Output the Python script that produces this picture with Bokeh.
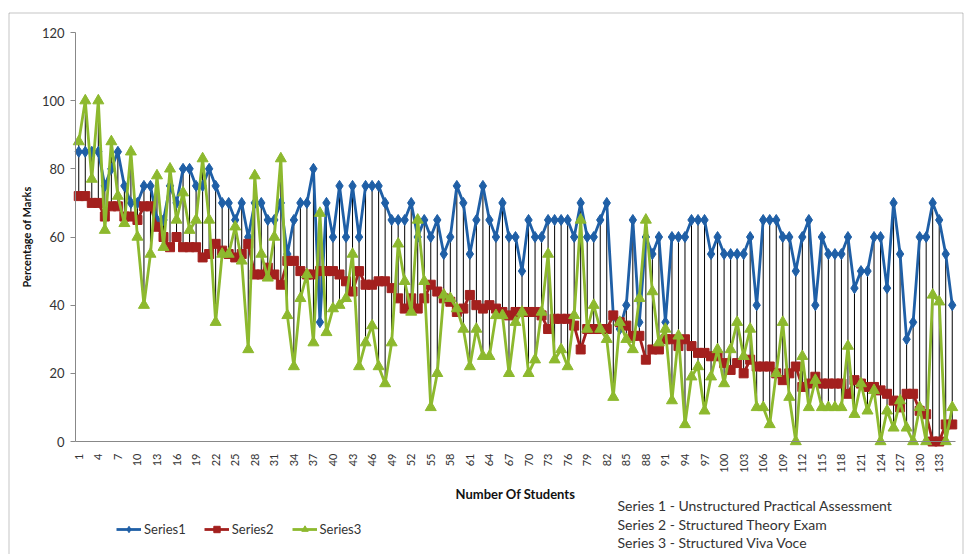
import numpy as np
from math import pi
from bokeh.plotting import figure
from bokeh.models import FixedTicker, Legend, LegendItem, Label, Range1d, BoxAnnotation
from bokeh.embed import file_html
from bokeh.resources import INLINE

students = list(range(1, 136))

series1 = [85, 85, 85, 85, 75, 80, 85, 75, 70, 70,
           75, 75, 65, 65, 75, 70, 80, 80, 75, 75,
           80, 75, 70, 70, 65, 70, 60, 70, 70, 65,
           65, 70, 55, 65, 70, 70, 80, 35, 70, 60,
           75, 60, 75, 60, 75, 75, 75, 70, 65, 65,
           65, 70, 60, 65, 60, 65, 55, 60, 75, 70,
           55, 65, 75, 65, 60, 70, 60, 60, 50, 65,
           60, 60, 65, 65, 65, 65, 60, 70, 60, 60,
           65, 70, 37, 33, 40, 65, 35, 60, 55, 60,
           35, 60, 60, 60, 65, 65, 65, 55, 60, 55,
           55, 55, 55, 60, 40, 65, 65, 65, 60, 60,
           50, 60, 65, 40, 60, 55, 55, 55, 60, 45,
           50, 50, 60, 60, 45, 70, 55, 30, 35, 60,
           60, 70, 65, 55, 40]

series2 = [72, 72, 70, 70, 66, 69, 69, 66, 66, 65,
           69, 69, 63, 60, 57, 60, 57, 57, 57, 54,
           55, 58, 56, 55, 54, 55, 58, 49, 49, 51,
           49, 46, 53, 53, 50, 49, 49, 50, 50, 50,
           49, 47, 44, 50, 46, 46, 47, 47, 45, 42,
           39, 42, 39, 42, 46, 44, 42, 41, 38, 39,
           43, 40, 39, 40, 39, 38, 37, 38, 38, 38,
           38, 37, 33, 36, 36, 36, 34, 27, 33, 33,
           33, 33, 37, 35, 34, 31, 31, 24, 27, 27,
           30, 30, 28, 30, 28, 26, 26, 25, 25, 23,
           21, 23, 20, 24, 22, 22, 22, 20, 18, 20,
           22, 16, 17, 19, 17, 17, 17, 17, 14, 18,
           17, 16, 16, 15, 14, 12, 10, 14, 14, 9,
           8, 0, 0, 5, 5]

series3 = [88, 100, 77, 100, 62, 88, 72, 64, 85, 60,
           40, 55, 78, 57, 80, 65, 73, 62, 65, 83,
           65, 35, 55, 55, 63, 53, 27, 78, 55, 48,
           60, 83, 37, 22, 42, 49, 29, 67, 32, 39,
           40, 42, 55, 22, 29, 34, 22, 17, 29, 58,
           47, 38, 65, 47, 10, 20, 43, 42, 39, 33,
           22, 33, 25, 25, 37, 37, 20, 35, 38, 20,
           24, 38, 55, 24, 27, 22, 37, 65, 33, 40,
           33, 30, 13, 35, 30, 27, 42, 65, 44, 29,
           33, 12, 31, 5, 19, 22, 9, 19, 27, 17,
           27, 35, 25, 33, 10, 10, 5, 20, 35, 13,
           0, 25, 10, 18, 10, 10, 10, 10, 28, 8,
           17, 9, 15, 0, 9, 4, 12, 4, 0, 10,
           0, 43, 41, 0, 10]

x_tick_values = list(range(1, 134, 3))
y_tick_values = [0, 20, 40, 60, 80, 100, 120]

series_names = ["Series1", "Series2", "Series3"]
series_notes = ["Series 1 - Unstructured Practical Assessment",
                "Series 2 - Structured Theory Exam",
                "Series 3 - Structured Viva Voce"]
x_title = "Number Of Students"
y_title = "Percentage of Marks"

BLUE = "#1F5FA6"
RED = "#A3201E"
GREEN = "#8DB92E"
FONT = "Lato"

# layout: the frame fills the canvas; axes are pinned at x=0.5 / y=0
W, H = 964, 554
AX_LEFT, AX_RIGHT = 75, 955      # pixel span of the category axis
AX_TOP, AX_BOTTOM = 32, 441      # pixel span of the 0..120 value axis
TOP = 8
PX_X = (AX_RIGHT - AX_LEFT) / 135.0
PX_Y = (AX_BOTTOM - AX_TOP) / 120.0
x_start = 0.5 - AX_LEFT / PX_X
x_end = 135.5 + (W - AX_RIGHT) / PX_X
y_end = 120 + (AX_TOP - TOP) / PX_Y
y_start = -(H - AX_BOTTOM) / PX_Y


def px_x(px):
    return x_start + px / PX_X


def px_y(py):
    return (AX_BOTTOM - py) / PX_Y


p = figure(width=W, height=H, output_backend="svg", toolbar_location=None,
           x_range=Range1d(x_start, x_end), y_range=Range1d(y_start, y_end),
           min_border_left=0, min_border_right=0, min_border_top=TOP,
           min_border_bottom=0)
p.outline_line_color = None
p.xgrid.visible = False
p.ygrid.visible = False

# chart border (as in the reference picture)
p.add_layout(BoxAnnotation(left=px_x(8.5), right=px_x(962.5), top=px_y(12.5),
                           bottom=y_start - 5, fill_color=None, fill_alpha=0,
                           line_color="#404040", line_width=1))

arr = np.array([series1, series2, series3], dtype=float)
lo = arr.min(axis=0)
hi = arr.max(axis=0)
p.segment(x0=students, y0=lo, x1=students, y1=hi, line_color="black", line_width=1)

r1l = p.line(students, series1, line_color=BLUE, line_width=2.8)
r1m = p.scatter(students, series1, marker="diamond", size=11, fill_color=BLUE, line_color=BLUE)
r2l = p.line(students, series2, line_color=RED, line_width=2.8)
r2m = p.scatter(students, series2, marker="square", size=9, fill_color=RED, line_color=RED)
r3l = p.line(students, series3, line_color=GREEN, line_width=2.8)
r3m = p.scatter(students, series3, marker="triangle", size=11, fill_color=GREEN, line_color=GREEN)

# axes
p.xaxis.fixed_location = 0
p.xaxis.bounds = (0.5, 135.5)
p.xaxis.ticker = FixedTicker(ticks=x_tick_values)
p.xaxis.major_label_orientation = pi / 2
p.xaxis.major_label_text_font = FONT
p.xaxis.major_label_text_font_size = "11px"
p.xaxis.major_label_text_color = "#333333"
p.xaxis.major_tick_line_color = None
p.xaxis.minor_tick_line_color = None
p.xaxis.axis_line_color = "#888888"
p.xaxis.major_label_standoff = 6
p.xaxis.axis_label = x_title
p.xaxis.axis_label_text_font = FONT
p.xaxis.axis_label_text_font_style = "bold"
p.xaxis.axis_label_text_font_size = "13px"
p.xaxis.axis_label_text_color = "#111111"
p.xaxis.axis_label_standoff = 10

p.yaxis.fixed_location = 0.5
p.yaxis.bounds = (0, 120)
p.yaxis.ticker = FixedTicker(ticks=y_tick_values)
p.yaxis.major_label_text_font = FONT
p.yaxis.major_label_text_font_size = "13px"
p.yaxis.major_label_text_color = "#333333"
p.yaxis.major_tick_out = 5
p.yaxis.major_tick_in = 0
p.yaxis.minor_tick_line_color = None
p.yaxis.major_tick_line_color = "#888888"
p.yaxis.axis_line_color = "#888888"
p.yaxis.major_label_standoff = 6
p.yaxis.axis_label = y_title
p.yaxis.axis_label_text_font = FONT
p.yaxis.axis_label_text_font_style = "bold"
p.yaxis.axis_label_text_font_size = "11px"
p.yaxis.axis_label_text_color = "#111111"
p.yaxis.axis_label_standoff = 6

legend = Legend(items=[LegendItem(label=series_names[0], renderers=[r1l, r1m]),
                       LegendItem(label=series_names[1], renderers=[r2l, r2m]),
                       LegendItem(label=series_names[2], renderers=[r3l, r3m])],
                orientation="horizontal", location=(116, 17),
                border_line_color=None, background_fill_alpha=0,
                label_text_font=FONT, label_text_font_size="13px",
                label_text_color="#333333", glyph_width=25, glyph_height=16,
                label_height=16, spacing=18, label_standoff=3, padding=4, margin=0)
p.add_layout(legend, "center")

for k, note in enumerate(series_notes):
    p.add_layout(Label(x=px_x(617), y=px_y(505 + 18.5 * k), text=note, text_font=FONT,
                       text_font_size="14px", text_color="#333333",
                       text_baseline="middle"))

open("out.html", "w").write(file_html(p, INLINE))
